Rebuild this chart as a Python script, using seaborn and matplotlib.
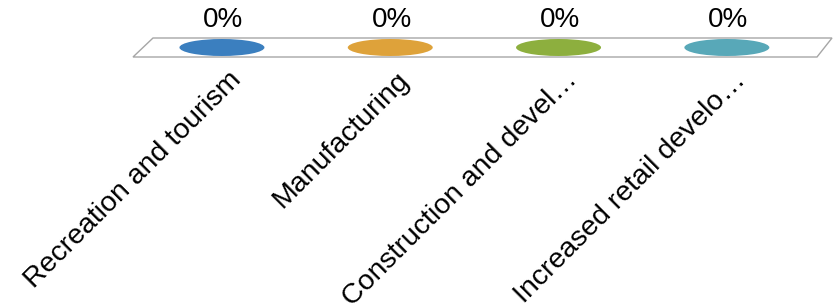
import matplotlib
matplotlib.use("Agg")
import matplotlib.pyplot as plt
import matplotlib.transforms as mtransforms
from matplotlib.path import Path
from matplotlib.patches import Polygon
import seaborn as sns
import pandas as pd

categories = ["Recreation and tourism", "Manufacturing",
              "Construction and devel\u2026", "Increased retail develo\u2026"]
values = [0.0, 0.0, 0.0, 0.0]
colors = ["#3B7FBF", "#DEA23A", "#8DAF3E", "#58A8B8"]

sns.set_style("white")
plt.rcParams["font.family"] = ["Liberation Sans", "DejaVu Sans"]

df = pd.DataFrame({"category": categories, "value": values})

fig = plt.figure(figsize=(8.33, 3.06), dpi=100)
W, H = 833, 306
x0, x1 = 137.8, 811.0
y_top, y_bot = 38, 57
ax = fig.add_axes([x0 / W, (H - y_bot) / H, (x1 - x0) / W, (y_bot - y_top) / H])
ax.set_facecolor("none")

# floor (parallelogram)
def fx(px):
    return (px - x0) / (x1 - x0)
floor = Polygon([(fx(133), 0), (fx(817), 0), (fx(832), 1), (fx(153), 1)],
                closed=True, transform=ax.transAxes, clip_on=False,
                facecolor="white", edgecolor="#A6A6A6", linewidth=1.0, zorder=0)
ax.add_patch(floor)

# ellipse marker (zero-height cylinder tops)
ell = Path.unit_circle().transformed(mtransforms.Affine2D().scale(1.0, 0.2))
sns.scatterplot(data=df, x="category", y="value", hue="category",
                palette=colors, marker=ell, s=61.2 ** 2, linewidth=0,
                legend=False, ax=ax, zorder=3)

ax.set_xlim(-0.5, len(categories) - 0.5)
ax.set_ylim(-0.5, 0.5)
ax.set_yticks([])
ax.set_xlabel("")
ax.set_ylabel("")
for s in ax.spines.values():
    s.set_visible(False)

# value labels
for i, v in enumerate(values):
    ax.annotate(f"{v:.0%}", xy=(i, 1), xycoords=("data", "axes fraction"),
                xytext=(1, 8), textcoords="offset points",
                ha="center", va="baseline", fontsize=20, color="black")

# category tick labels
ax.set_xticks(range(len(categories)))
ax.set_xticklabels(categories, rotation=45, ha="right", va="top",
                   rotation_mode="anchor", fontsize=20.5, color="black")
ax.tick_params(axis="x", length=0, pad=7)
offset = mtransforms.ScaledTranslation(6 / 100, 0, fig.dpi_scale_trans)
for lbl in ax.get_xticklabels():
    lbl.set_transform(lbl.get_transform() + offset)

fig.savefig("out.png", dpi=100, facecolor="white")
